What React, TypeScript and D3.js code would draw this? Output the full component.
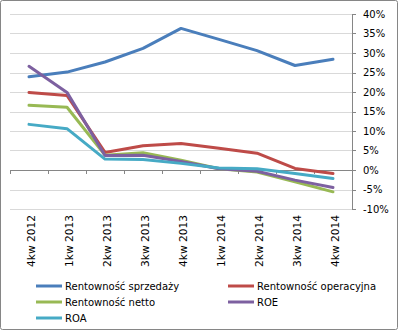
import React from "react";
import * as d3 from "d3";

const categories = ["4kw 2012", "1kw 2013", "2kw 2013", "3kw 2013", "4kw 2013", "1kw 2014", "2kw 2014", "3kw 2014", "4kw 2014"];
const sprzedazy = [23.9, 25.1, 27.7, 31.2, 36.3, 33.5, 30.6, 26.8, 28.4];
const operacyjna = [19.9, 19.1, 4.5, 6.2, 6.8, 5.6, 4.3, 0.4, -0.9];
const netto = [16.6, 16.1, 3.8, 4.4, 2.5, 0.3, -0.5, -3.0, -5.6];
const roe = [26.6, 19.9, 3.7, 3.8, 2.2, 0.3, -0.3, -2.6, -4.5];
const roa = [11.7, 10.6, 2.8, 2.7, 1.7, 0.5, 0.3, -0.9, -2.2];
const yTicks = [40, 35, 30, 25, 20, 15, 10, 5, 0, -5, -10];

const seriesNames = ["Rentowność sprzedaży", "Rentowność operacyjna", "Rentowność netto", "ROE", "ROA"];
const seriesData = [sprzedazy, operacyjna, netto, roe, roa];
const colors = ["#4a7ebb", "#be4b48", "#98b954", "#7d60a0", "#46aac5"];

const W = 398, H = 330;
const left = 10, right = 352, top = 14, bottom = 209;
const font = "'DejaVu Sans', Tahoma, sans-serif";

export default function App() {
  const x = d3.scaleBand<string>().domain(categories).range([left, right]);
  const y = d3.scaleLinear().domain([-10, 40]).range([bottom, top]);
  const line = d3.line<number>()
    .x((_, i) => (x(categories[i]) as number) + x.bandwidth() / 2)
    .y((d) => y(d));
  const y0 = y(0);
  const legendPos = [
    [36, 286], [228, 286], [36, 302], [228, 302], [36, 318],
  ];
  return (
    <svg width={W} height={H} style={{ position: "absolute", left: 0, top: 0 }} fontFamily={font}>
      <rect x={0.5} y={0.5} width={W - 1} height={H - 1} fill="#fff" stroke="#868686" rx={2} />
      {yTicks.map((t) => (
        <line key={"g" + t} x1={left} x2={right} y1={Math.round(y(t)) + 0.5} y2={Math.round(y(t)) + 0.5} stroke="#d9d9d9" strokeWidth={1} />
      ))}
      <line x1={left} x2={right} y1={Math.round(y0) + 0.5} y2={Math.round(y0) + 0.5} stroke="#868686" />
      {categories.concat([""]).map((c, i) => {
        const xx = Math.round(left + i * x.step()) + 0.5;
        return <line key={"xt" + i} x1={xx} x2={xx} y1={Math.round(y0)} y2={Math.round(y0) + 4} stroke="#868686" />;
      })}
      <line x1={right + 0.5} x2={right + 0.5} y1={Math.round(y(40))} y2={Math.round(y(-10)) + 1} stroke="#868686" />
      {yTicks.map((t) => (
        <g key={"yt" + t}>
          <line x1={right} x2={right + 4} y1={Math.round(y(t)) + 0.5} y2={Math.round(y(t)) + 0.5} stroke="#868686" />
          <text x={right + 11} y={y(t)} dy="0.35em" fontSize={10} fill="#000">{t + "%"}</text>
        </g>
      ))}
      {categories.map((c) => {
        const cx = (x(c) as number) + x.bandwidth() / 2;
        return (
          <text key={c} transform={`translate(${cx + 5.5},215) rotate(-90)`} textAnchor="end" fontSize={10.6} fill="#000">{c}</text>
        );
      })}
      {seriesData.map((s, i) => (
        <path key={seriesNames[i]} d={line(s) as string} fill="none" stroke={colors[i]} strokeWidth={3} strokeLinejoin="round" strokeLinecap="round" />
      ))}
      {seriesNames.map((n, i) => (
        <g key={"lg" + n}>
          <line x1={legendPos[i][0]} x2={legendPos[i][0] + 26} y1={legendPos[i][1]} y2={legendPos[i][1]} stroke={colors[i]} strokeWidth={3} />
          <text x={legendPos[i][0] + 29} y={legendPos[i][1]} dy="0.35em" fontSize={10} fill="#000">{n}</text>
        </g>
      ))}
    </svg>
  );
}
